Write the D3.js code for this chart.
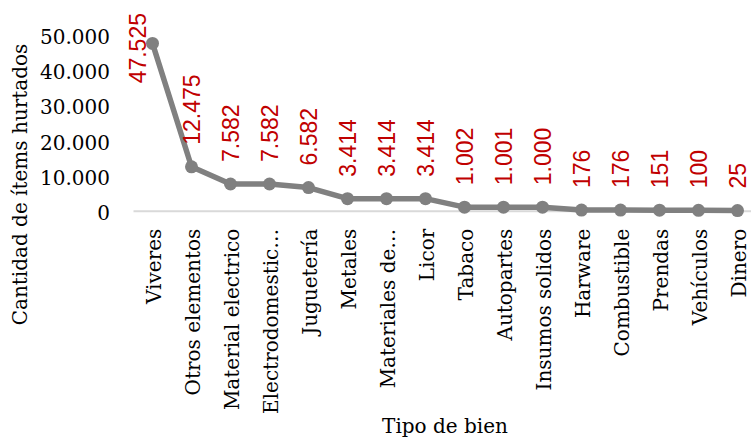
<!DOCTYPE html>
<html>
<head>
<meta charset="utf-8">
<script src="https://cdn.jsdelivr.net/npm/d3@7"></script>
<style>
  body { margin: 0; background: #fff; }
  svg { display: block; }
</style>
</head>
<body>
<svg id="chart" width="751" height="440"></svg>
<script>
// Stolen items by type of good
const categories = ["Viveres", "Otros elementos", "Material electrico", "Electrodomestic…", "Juguetería",
  "Metales", "Materiales de…", "Licor", "Tabaco", "Autopartes", "Insumos solidos", "Harware",
  "Combustible", "Prendas", "Vehículos", "Dinero"];
const itemsStolen = [47525, 12475, 7582, 7582, 6582, 3414, 3414, 3414, 1002, 1001, 1000, 176, 176, 151, 100, 25];
const yTicks = [0, 10000, 20000, 30000, 40000, 50000];
const yTitle = "Cantidad de ítems hurtados";
const xTitle = "Tipo de bien";

const serif = "'DejaVu Serif', serif";
const sans = "'Liberation Sans', Arial, sans-serif";
const fmt = d => d3.format(",")(d).replace(/,/g, ".");

const svg = d3.select("#chart");
const plot = { left: 133, right: 757, top: 34.7, bottom: 210.7 };

const x = d3.scaleBand().domain(categories).range([plot.left, plot.right]).padding(0);
const cx = d => x(d) + x.bandwidth() / 2;
const y = d3.scaleLinear().domain([0, 50000]).range([plot.bottom, plot.top]);

// Y axis (labels only)
const yAxis = svg.append("g")
  .attr("transform", `translate(${plot.left},0)`)
  .call(d3.axisLeft(y).tickValues(yTicks).tickSize(0).tickPadding(23).tickFormat(fmt));
yAxis.select(".domain").remove();
yAxis.selectAll("text")
  .attr("dy", "0.44em")
  .style("font-family", serif)
  .style("font-size", "20px")
  .attr("fill", "#000");

// X axis: light baseline and rotated category names
const xAxis = svg.append("g")
  .attr("transform", `translate(0,${y(0)})`)
  .call(d3.axisBottom(x).tickSize(0));
xAxis.select(".domain").attr("stroke", "#d9d9d9").attr("stroke-width", 2);
xAxis.selectAll("text")
  .attr("transform", "rotate(-90)")
  .attr("x", -18)
  .attr("y", 0)
  .attr("dy", "0.44em")
  .attr("text-anchor", "end")
  .style("font-family", serif)
  .style("font-size", "20px")
  .attr("fill", "#000");

// Line with markers
const pts = categories.map((c, i) => ({ c, v: itemsStolen[i] }));
svg.append("path")
  .datum(pts)
  .attr("fill", "none")
  .attr("stroke", "#808080")
  .attr("stroke-width", 5.5)
  .attr("stroke-linejoin", "round")
  .attr("d", d3.line().x(d => cx(d.c)).y(d => y(d.v)));

svg.append("g").selectAll("circle")
  .data(pts)
  .join("circle")
  .attr("cx", d => cx(d.c))
  .attr("cy", d => y(d.v))
  .attr("r", 6.5)
  .attr("fill", "#808080");

// Value labels above each marker, rotated
const labels = svg.append("g").selectAll("g")
  .data(pts)
  .join("g")
  .attr("transform", d => `translate(${cx(d.c)},${y(d.v)})`);
labels.append("text")
  .attr("transform", "rotate(-90)")
  .attr("x", 22)
  .attr("dy", "0.36em")
  .attr("text-anchor", "start")
  .style("font-family", sans)
  .style("font-size", "23px")
  .attr("fill", "#c00000")
  .text(d => fmt(d.v))
  .each(function (d) {
    const len = this.getComputedTextLength();
    const py = y(d.v);
    if (py - 22 - len < 13) {
      // not enough room above: pin to the top edge, beside the marker
      d3.select(this).attr("text-anchor", "end").attr("x", py - 13);
      d3.select(this.parentNode).attr("transform", `translate(${cx(d.c) - 15},${py})`);
    }
  });

// Axis titles
svg.append("text")
  .attr("transform", `translate(27,184.5) rotate(-90)`)
  .attr("text-anchor", "middle")
  .style("font-family", serif)
  .style("font-size", "20px")
  .attr("fill", "#000")
  .text(yTitle);

svg.append("text")
  .attr("x", (plot.left + plot.right) / 2)
  .attr("y", 433)
  .attr("text-anchor", "middle")
  .style("font-family", serif)
  .style("font-size", "20px")
  .attr("fill", "#000")
  .text(xTitle);
</script>
</body>
</html>
